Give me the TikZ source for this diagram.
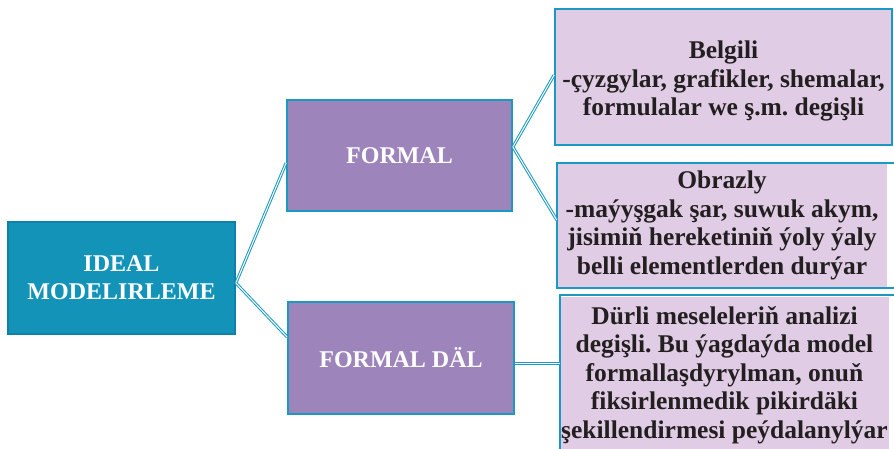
\documentclass[tikz,border=0pt]{standalone}
\usepackage{fontspec}
\setmainfont{Liberation Serif}
\usetikzlibrary{calc}
\frenchspacing
\definecolor{tealfill}{HTML}{1493B9}
\definecolor{tealdark}{HTML}{0F80A8}
\definecolor{tealline}{HTML}{1A9AC0}
\definecolor{purplefill}{HTML}{9D85BC}
\definecolor{lavender}{HTML}{E0CCE4}
\definecolor{darktext}{HTML}{231F20}
\tikzset{
  mainbox/.style={draw=tealdark, fill=tealfill, line width=1.8pt, text=white,
    font=\bfseries\fontsize{24}{28}\selectfont, align=center, inner sep=0pt},
  midbox/.style={draw=tealline, fill=purplefill, line width=1.8pt, text=white,
    font=\bfseries\fontsize{24}{28}\selectfont, align=center, inner sep=0pt},
  leafbox/.style={fill=lavender, text=darktext,
    font=\bfseries\fontsize{25.5}{28.6}\selectfont, align=center, inner sep=0pt},
  leafborder/.style={draw=tealline, line width=1.8pt},
  conn/.style={draw=tealline, line width=1pt, double=white, double distance=1pt}
}
\begin{document}
\begin{tikzpicture}[x=1pt,y=-1pt]
\useasboundingbox (0,0) rectangle (894,448);
\clip (0,0) rectangle (894,448);
\node[mainbox, minimum width=227pt, minimum height=112pt] (ideal) at (121.5,278) {IDEAL\\MODELIRLEME};
\node[midbox, minimum width=225pt, minimum height=111pt] (formal) at (399.5,155.5) {FORMAL};
\node[midbox, minimum width=226pt, minimum height=112pt] (nonformal) at (401,358) {FORMAL DÄL};
\node[leafbox, leafborder, minimum width=337pt, minimum height=136pt] (belgili) at (723.5,77) {\rule{0pt}{26pt}Belgili\\-çyzgylar, grafikler, shemalar,\\formulalar we ş.m. degişli};
\node[leafbox, minimum width=330pt, minimum height=125pt] (obrazly) at (722,225.5) {Obrazly\\-maýyşgak şar, suwuk akym,\\jisimiň hereketiniň ýoly ýaly\\belli elementlerden durýar};
\node[leafbox, minimum width=329pt, minimum height=157pt] (durli) at (724.5,375) {Dürli meseleleriň analizi\\degişli. Bu ýagdaýda model\\formallaşdyrylman, onuň\\fiksirlenmedik pikirdäki\\şekillendirmesi peýdalanylýar};
\draw[leafborder] (obrazly.north west -| 900,0) -- (obrazly.north west) -- (obrazly.south west) -- (obrazly.south west -| 900,0);
\draw[leafborder] ([yshift=1.5pt]durli.north west -| 900,0) -- ([yshift=1.5pt]durli.north west) -- (durli.south west);
\coordinate (i0) at ([yshift=-5pt]ideal.east);
\coordinate (f0) at ([yshift=8.5pt]formal.east);
\draw[conn] (i0) -- ([yshift=-7.5pt]formal.west);
\draw[conn] (i0) -- ([yshift=21pt]nonformal.west);
\draw[conn] (f0) -- ([yshift=2pt]belgili.west);
\draw[conn] (f0) -- ([yshift=5.5pt]obrazly.west);
\draw[conn] ([yshift=-5pt]nonformal.east) -- ([yshift=-5pt]nonformal.east -| durli.west);
\end{tikzpicture}
\end{document}
